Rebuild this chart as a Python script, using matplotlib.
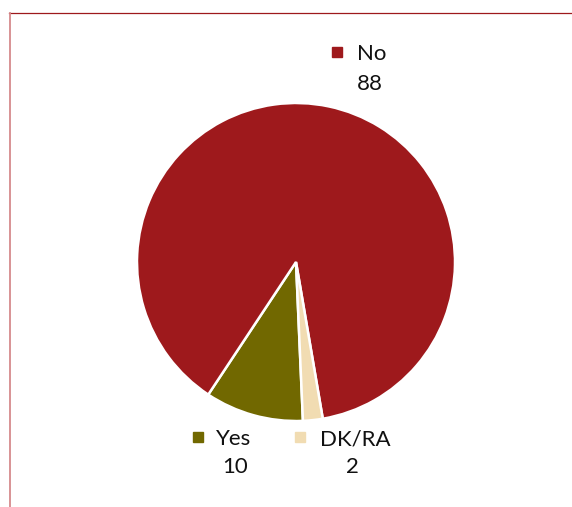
import matplotlib.pyplot as plt
from matplotlib.lines import Line2D

W, H = 572, 507

labels = ['Yes', 'No', 'DK/RA']
values = [10, 88, 2]
colors = ['#716800', '#9E191C', '#F1DCB2']

plt.rcParams['font.family'] = ['Lato', 'DejaVu Sans']

fig = plt.figure(figsize=(W / 100, H / 100), dpi=100)

# pie axes: centre (296, 262) px, radius 159 px
cx, cy, r = 296, 262, 159
ax = fig.add_axes([(cx - r) / W, 1 - (cy + r) / H, 2 * r / W, 2 * r / H])
ax.pie(values, colors=colors, startangle=272.5, counterclock=False,
       radius=1.0, wedgeprops=dict(edgecolor='white', linewidth=1.8))
ax.set_xlim(-1.0, 1.0)
ax.set_ylim(-1.0, 1.0)
ax.set_aspect('equal')
ax.axis('off')


def fx(px):
    return px / W


def fy(py):
    return 1 - py / H


# frame lines
fig.add_artist(Line2D([fx(9), fx(572)], [fy(13), fy(13)], color='#9E191C', lw=0.9))
fig.add_artist(Line2D([fx(9.7), fx(9.7)], [fy(13), fy(507)], color='#D68A8C', lw=1.3))

# data labels with legend keys (square x, text left x, baseline y, value centre x, value baseline)
pos = {
    'No': (336.5, 357, 60, 369.5, 90),
    'Yes': (197.5, 216, 445, 235, 473),
    'DK/RA': (300, 320, 445, 352, 473),
}
for lab, val, col in zip(labels, values, colors):
    sx, tx, by, vx, vy = pos[lab]
    fig.add_artist(Line2D([fx(sx)], [fy(by - 8.5)], marker='s', markersize=7.4,
                          color=col, linestyle='none'))
    fig.text(fx(tx), fy(by), lab, ha='left', va='baseline', fontsize=16, color='#111111')
    fig.text(fx(vx), fy(vy), str(val), ha='center', va='baseline', fontsize=16, color='#111111')

fig.savefig('out.png', dpi=100, facecolor='white')
